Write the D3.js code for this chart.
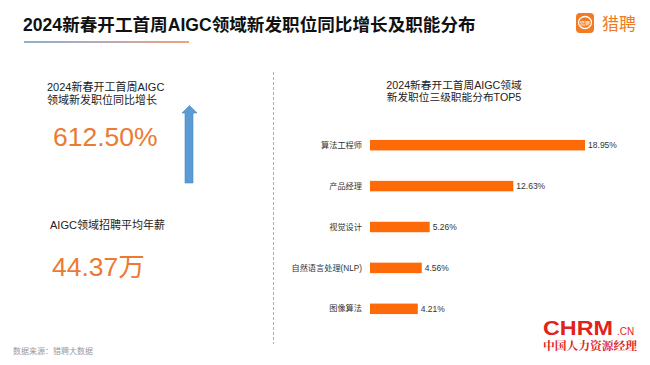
<!DOCTYPE html>
<html><head><meta charset="utf-8">
<script src="https://cdn.jsdelivr.net/npm/d3@7/dist/d3.min.js"></script>
<style>
html,body{margin:0;padding:0;background:#fff;}
svg{display:block;}
</style></head>
<body>
<script>
// ---- data ----
const mainTitle = "2024新春开工首周AIGC领域新发职位同比增长及职能分布";
const kpiLabels = [["2024新春开工首周AIGC", "领域新发职位同比增长"], ["AIGC领域招聘平均年薪"]];
const kpiValues = ["612.50%", "44.37万"];
const chartTitle = ["2024新春开工首周AIGC领域", "新发职位三级职能分布TOP5"];
const categories = ["算法工程师", "产品经理", "视觉设计", "自然语言处理(NLP)", "图像算法"];
const values = [18.95, 12.63, 5.26, 4.56, 4.21];
const sourceNote = "数据来源：猎聘大数据";

const W = 650, H = 365;
const FONT = "'Liberation Sans', Arial, 'Noto Sans CJK SC', sans-serif";
const svg = d3.select("body").append("svg").attr("width", W).attr("height", H)
  .style("font-family", FONT);
svg.append("rect").attr("width", W).attr("height", H).attr("fill", "#fff");

// gradient for title underline
const defs = svg.append("defs");
const grad = defs.append("linearGradient").attr("id", "ul").attr("x1", "0%").attr("x2", "100%");
grad.append("stop").attr("offset", "0%").attr("stop-color", "#8fb0c8");
grad.append("stop").attr("offset", "50%").attr("stop-color", "#b9a9b8");
grad.append("stop").attr("offset", "100%").attr("stop-color", "#eba57a");

// main title
svg.append("text").attr("x", 23).attr("y", 31)
  .attr("font-size", 17.6).attr("font-weight", "bold").attr("fill", "#111")
  .text(mainTitle);
svg.append("rect").attr("x", 24).attr("y", 41).attr("width", 165).attr("height", 2)
  .attr("fill", "url(#ul)");

// 猎聘 logo
const logo = svg.append("g");
logo.append("rect").attr("x", 576).attr("y", 13).attr("width", 18).attr("height", 20)
  .attr("rx", 4).attr("fill", "#f27a21");
logo.append("ellipse").attr("cx", 585).attr("cy", 22.5).attr("rx", 6.5).attr("ry", 6)
  .attr("fill", "none").attr("stroke", "#fff").attr("stroke-width", 1.3);
logo.append("text").attr("x", 585).attr("y", 24.5).attr("text-anchor", "middle")
  .attr("font-size", 5).attr("fill", "#fff").text("猎聘");
logo.append("text").attr("x", 602).attr("y", 30).attr("font-size", 17)
  .attr("fill", "#f27a21").text("猎聘");

// KPI left side
const orange = "#ec7a33";
const kpi1 = svg.append("text").attr("font-size", 11).attr("fill", "#222");
kpiLabels[0].forEach((l, i) => kpi1.append("tspan").attr("x", 47).attr("y", 91 + i * 13).text(l));
svg.append("text").attr("x", 53).attr("y", 146).attr("font-size", 26.5).attr("fill", orange)
  .text(kpiValues[0]);
svg.append("text").attr("x", 50).attr("y", 229).attr("font-size", 11).attr("fill", "#222")
  .text(kpiLabels[1][0]);
svg.append("text").attr("x", 52).attr("y", 276).attr("font-size", 26.5).attr("fill", orange)
  .text(kpiValues[1]);

// up arrow
svg.append("path")
  .attr("d", "M185,183 L185,113 L182,113 L189.5,105.5 L197,113 L193,113 L193,183 Z")
  .attr("fill", "#5b9bd5").attr("stroke", "#4a86c0").attr("stroke-width", 0.6);

// source note
svg.append("text").attr("x", 13).attr("y", 354).attr("font-size", 8).attr("fill", "#999")
  .text(sourceNote);

// dashed divider
svg.append("line").attr("x1", 273.5).attr("x2", 273.5).attr("y1", 72).attr("y2", 344)
  .attr("stroke", "#999").attr("stroke-width", 0.8).attr("stroke-dasharray", "3,2");

// right chart title
const ct = svg.append("text").attr("text-anchor", "middle").attr("font-size", 10.7).attr("fill", "#222");
chartTitle.forEach((l, i) => ct.append("tspan").attr("x", 454).attr("y", 89 + i * 11.5).text(l));

// bar chart
const x = d3.scaleLinear().domain([0, 20]).range([370, 370 + 227]);
const y = d3.scaleBand().domain(categories).range([119.5, 334.5])
  .paddingInner(0.744).paddingOuter(0.5);

svg.append("g").selectAll("rect").data(values).join("rect")
  .attr("x", x(0)).attr("y", (d, i) => y(categories[i]))
  .attr("width", d => x(d) - x(0)).attr("height", y.bandwidth())
  .attr("fill", "#fe6a08");

const yAxis = svg.append("g").attr("transform", `translate(${x(0)},0)`)
  .call(d3.axisLeft(y).tickSize(0).tickPadding(8));
yAxis.select(".domain").remove();
yAxis.selectAll("text").attr("font-size", 8.2).attr("fill", "#333").attr("font-family", FONT);

svg.append("g").selectAll("text").data(values).join("text")
  .attr("x", d => x(d) + 3).attr("y", (d, i) => y(categories[i]) + y.bandwidth() / 2)
  .attr("dy", "0.35em").attr("font-size", 8.5).attr("fill", "#333")
  .text(d => d.toFixed(2) + "%");

// CHRM logo
const red = "#e0231c";
svg.append("text").attr("x", 543).attr("y", 335).attr("font-size", 20).attr("font-weight", "bold")
  .attr("fill", red).attr("textLength", 70).attr("lengthAdjust", "spacingAndGlyphs").text("CHRM");
svg.append("text").attr("x", 617).attr("y", 335).attr("font-size", 10).attr("fill", red).text(".CN");
svg.append("text").attr("x", 543).attr("y", 350).attr("font-size", 11.5).attr("fill", red)
  .attr("font-family", "'Noto Serif CJK SC','Noto Sans CJK SC',serif").attr("font-weight", "bold")
  .attr("textLength", 94).attr("lengthAdjust", "spacingAndGlyphs").text("中国人力资源经理");
</script>
</body></html>
